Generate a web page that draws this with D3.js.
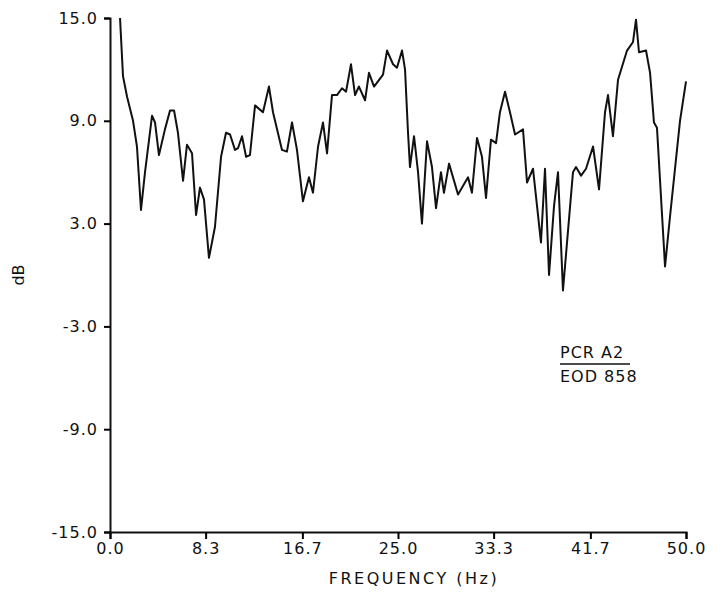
<!DOCTYPE html><html><head><meta charset="utf-8">
<script src="https://cdn.jsdelivr.net/npm/d3@7"></script>
<style>body{margin:0;background:#fff}text{font-family:"DejaVu Sans",sans-serif;fill:#111}</style></head><body>
<svg id="c" width="713" height="594"></svg>
<script>
const freq=[0.87,1.13,1.48,2.0,2.34,2.69,3.04,3.65,3.91,4.25,4.77,5.21,5.56,5.9,6.34,6.68,7.12,7.47,7.81,8.16,8.59,9.11,9.64,10.07,10.42,10.85,11.11,11.46,11.81,12.15,12.59,13.28,13.8,14.15,14.93,15.36,15.8,16.23,16.75,17.27,17.62,18.06,18.49,18.84,19.27,19.7,20.14,20.49,20.92,21.27,21.61,22.14,22.48,22.92,23.7,24.05,24.57,24.91,25.35,25.61,25.87,26.04,26.39,26.74,27.08,27.52,27.95,28.3,28.73,28.99,29.43,30.21,31.08,31.42,31.86,32.29,32.64,33.07,33.51,33.85,34.29,34.72,35.16,35.85,36.2,36.72,37.41,37.76,38.11,38.54,38.89,39.32,40.19,40.45,40.89,41.32,41.93,42.45,42.97,43.23,43.66,44.1,44.88,45.4,45.66,45.92,46.53,46.88,47.22,47.48,48.18,48.61,49.48,50.0];
const db=[15.0,11.6,10.4,9.0,7.5,3.8,6.0,9.3,8.9,7.0,8.5,9.6,9.6,8.3,5.5,7.6,7.1,3.5,5.1,4.4,1.0,2.8,6.9,8.3,8.2,7.3,7.4,8.1,6.9,7.0,9.9,9.5,11.0,9.5,7.3,7.2,8.9,7.3,4.3,5.7,4.8,7.5,8.9,7.1,10.5,10.5,10.9,10.7,12.3,10.5,11.0,10.2,11.8,11.0,11.7,13.1,12.3,12.1,13.1,12.0,8.3,6.3,8.1,6.0,3.0,7.8,6.3,3.9,6.0,4.8,6.5,4.7,5.7,4.8,8.0,6.9,4.5,7.9,7.7,9.5,10.7,9.5,8.2,8.5,5.4,6.2,1.9,6.2,0.0,4.0,6.0,-0.9,6.0,6.3,5.8,6.2,7.5,5.0,9.5,10.5,8.1,11.4,13.1,13.6,14.9,13.0,13.1,11.8,8.9,8.6,0.5,3.4,9.0,11.3];
const xTicks=[0,8.3,16.7,25.0,33.3,41.7,50.0];
const xLabels=["0.0","8.3","16.7","25.0","33.3","41.7","50.0"];
const yTicks=[-15,-9,-3,3,9,15];
const yLabels=["-15.0","-9.0","-3.0","3.0","9.0","15.0"];
const svg=d3.select("#c");
const x=d3.scaleLinear().domain([0,50]).range([110,686]);
const y=d3.scaleLinear().domain([-15,15]).range([532,18]);
svg.append("g").attr("transform","translate(0,532)")
 .call(d3.axisBottom(x).tickValues(xTicks).tickFormat((d,i)=>xLabels[i]).tickSizeOuter(0).tickSize(7).tickPadding(4))
 .call(g=>{g.select(".domain").attr("stroke","#111").attr("stroke-width",2);g.selectAll("line").attr("stroke-width",2);g.selectAll("text").attr("font-size",16).attr("letter-spacing",1);});
svg.append("g").attr("transform","translate(110,0)")
 .call(d3.axisLeft(y).tickValues(yTicks).tickFormat((d,i)=>yLabels[i]).tickSizeOuter(0).tickSize(6).tickPadding(6))
 .call(g=>{g.select(".domain").attr("stroke","#111").attr("stroke-width",2);g.selectAll("line").attr("stroke-width",2);g.selectAll("text").attr("font-size",16).attr("letter-spacing",1);});
svg.append("path").datum(freq.map((f,i)=>[f,db[i]])).attr("fill","none").attr("stroke","#111").attr("stroke-width",2).attr("stroke-linejoin","round")
 .attr("d",d3.line().x(d=>x(d[0])).y(d=>y(d[1])));
svg.append("text").attr("transform","translate(24,275) rotate(-90)").attr("text-anchor","middle").attr("font-size",16).text("dB");
svg.append("text").attr("x",414).attr("y",584).attr("text-anchor","middle").attr("font-size",16).attr("letter-spacing",2.5).text("FREQUENCY (Hz)");
svg.append("text").attr("x",560).attr("y",358).attr("font-size",16).attr("letter-spacing",1).text("PCR A2");
svg.append("line").attr("x1",560).attr("x2",630).attr("y1",364).attr("y2",364).attr("stroke","#111").attr("stroke-width",1.5);
svg.append("text").attr("x",560).attr("y",382).attr("font-size",16).attr("letter-spacing",1).text("EOD 858");
</script></body></html>
